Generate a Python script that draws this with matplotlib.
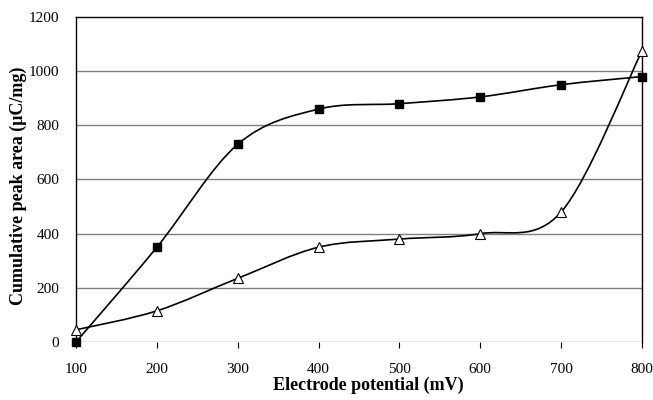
import numpy as np
import matplotlib
matplotlib.use("Agg")
import matplotlib.pyplot as plt
from matplotlib.path import Path
from matplotlib.patches import PathPatch

plt.rcParams['font.family'] = ['Liberation Serif', 'DejaVu Serif']

# data
potential = [100, 200, 300, 400, 500, 600, 700, 800]
squares = [0, 350, 730, 860, 880, 905, 950, 980]
triangles = [45, 115, 235, 350, 380, 400, 480, 1075]


def smooth_path(x, y):
    # Excel style smoothed line: cubic bezier through each point
    pts = np.column_stack([x, y]).astype(float)
    n = len(pts)
    verts = [pts[0]]
    codes = [Path.MOVETO]
    for i in range(n - 1):
        p0 = pts[i - 1] if i > 0 else pts[i]
        p1 = pts[i]
        p2 = pts[i + 1]
        p3 = pts[i + 2] if i + 2 < n else pts[i + 1]
        c1 = p1 + (p2 - p0) / 6.0
        c2 = p2 - (p3 - p1) / 6.0
        verts += [c1, c2, p2]
        codes += [Path.CURVE4] * 3
    return Path(verts, codes)


fig = plt.figure(figsize=(6.53, 4.0), dpi=100)
ax = fig.add_axes([76 / 653, 1 - 342 / 400, (642 - 76) / 653, (342 - 17) / 400])

for v in range(200, 1200, 200):
    ax.axhline(v, color='#808080', lw=1.0, zorder=1)
ax.axhline(0, color='#808080', lw=1.0, zorder=1)

for yy in (squares, triangles):
    ax.add_patch(PathPatch(smooth_path(potential, yy), fc='none', ec='black',
                           lw=1.2, zorder=2, clip_on=False))

ax.plot(potential, squares, ls='none', marker='s', ms=6, mfc='black',
        mec='black', zorder=3, clip_on=False)
ax.plot(potential, triangles, ls='none', marker='^', ms=7.5, mfc='white',
        mec='black', mew=0.8, zorder=3, clip_on=False)

ax.set_xlim(100, 800)
ax.set_ylim(0, 1200)
ax.set_xticks(potential)
ax.set_yticks(range(0, 1400, 200))
ax.spines['bottom'].set_visible(False)
for s in ('top', 'right', 'left'):
    ax.spines[s].set_color('black')
    ax.spines[s].set_linewidth(1.0)
ax.tick_params(axis='x', direction='out', length=4, color='black',
               labelsize=11, pad=11)
ax.tick_params(axis='y', length=0, labelsize=11, pad=12)

ax.set_xlabel('Electrode potential (mV)', fontsize=13, fontweight='bold')
ax.set_ylabel('Cumulative peak area (\u03bcC/mg)', fontsize=13,
              fontweight='bold')
ax.xaxis.set_label_coords(0.516, -0.108)
ax.yaxis.set_label_coords(-0.087, 0.48)

fig.savefig('out.png', dpi=100)
